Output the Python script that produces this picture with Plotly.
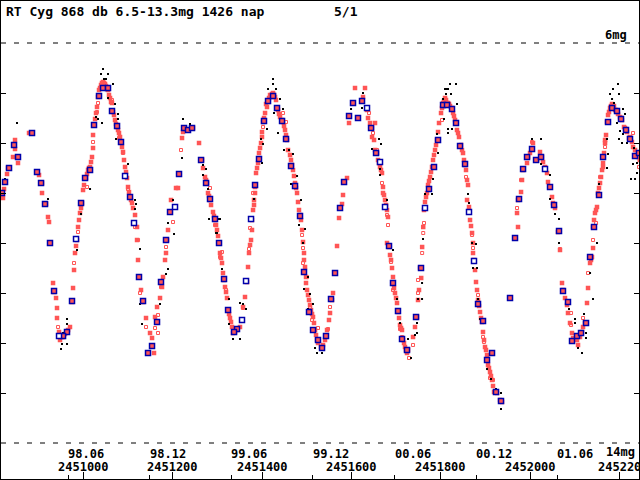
import plotly.graph_objects as go

JD0 = 2450000

# visual estimates (red filled squares): JD-2450000, magnitude
red_jd = [819.2, 821.5, 828.2, 830.4, 841.6, 846.1, 846.1, 852.8, 877.5, 895.4, 899.9, 906.6, 906.6, 915.6, 920.0,
          922.3, 924.5, 931.3, 933.5, 938.0, 940.2, 940.2, 944.7, 946.9, 951.4, 953.7, 958.1, 964.9, 969.3, 973.8,
          976.1, 980.5, 985.0, 987.3, 991.7, 996.2, 998.5, 1005.2, 1009.7, 1014.2, 1018.6, 1020.9, 1020.9, 1023.1,
          1027.6, 1029.8, 1032.1, 1036.6, 1041.0, 1045.5, 1052.2, 1056.7, 1063.4, 1065.7, 1070.2, 1074.7, 1079.1,
          1083.6, 1088.1, 1092.6, 1097.1, 1099.3, 1103.8, 1108.3, 1115.0, 1119.5, 1119.5, 1121.7, 1123.9, 1128.4,
          1132.9, 1139.6, 1148.6, 1153.1, 1157.5, 1159.8, 1164.3, 1171.0, 1175.5, 1177.7, 1182.2, 1184.4, 1186.7,
          1188.9, 1193.4, 1195.6, 1206.8, 1211.3, 1213.6, 1220.3, 1222.5, 1224.8, 1233.7, 1244.9, 1258.4, 1265.1,
          1267.3, 1271.8, 1276.3, 1278.5, 1283.0, 1289.7, 1294.2, 1298.7, 1303.2, 1305.4, 1309.9, 1312.1, 1316.6,
          1321.1, 1323.4, 1327.8, 1332.3, 1334.5, 1339.0, 1343.5, 1350.2, 1354.7, 1357.0, 1361.4, 1365.9, 1368.2,
          1370.4, 1374.9, 1377.1, 1379.4, 1381.6, 1383.9, 1386.1, 1390.6, 1392.8, 1397.3, 1399.5, 1401.8, 1406.3,
          1410.7, 1413.0, 1419.7, 1424.2, 1428.7, 1433.1, 1439.9, 1446.6, 1451.1, 1455.6, 1457.8, 1464.5, 1469.0,
          1473.5, 1478.0, 1480.2, 1482.4, 1486.9, 1489.2, 1491.4, 1493.6, 1495.9, 1498.1, 1500.4, 1504.8, 1509.3,
          1513.8, 1518.3, 1522.8, 1525.0, 1531.7, 1536.2, 1540.7, 1545.2, 1549.6, 1551.9, 1556.4, 1558.6, 1567.6,
          1572.1, 1574.3, 1578.8, 1581.0, 1583.3, 1590.0, 1607.9, 1630.3, 1594.5, 1625.8, 1634.8, 1637.0, 1641.5,
          1646.0, 1652.7, 1646.0, 1652.7, 1657.2, 1659.4, 1663.9, 1668.4, 1670.6, 1670.6, 1675.1, 1679.6, 1681.8,
          1679.6, 1684.1, 1688.6, 1690.8, 1693.0, 1693.0, 1697.5, 1702.0, 1704.2, 1708.7, 1713.2, 1715.5, 1719.9,
          1724.4, 1726.7, 1737.9, 1742.3, 1746.8, 1749.1, 1751.3, 1753.6, 1756.2, 1758.3, 1760.7, 1762.5, 1764.7,
          1769.2, 1771.5, 1776.0, 1780.4, 1782.7, 1787.2, 1791.6, 1793.9, 1796.1, 1800.6, 1805.1, 1809.6, 1816.3,
          1825.2, 1827.5, 1834.2, 1836.4, 1840.9, 1845.4, 1849.9, 1852.1, 1856.6, 1858.9, 1858.9, 1863.3, 1865.6,
          1870.1, 1872.3, 1872.3, 1874.5, 1876.8, 1879.0, 1881.3, 1883.5, 1888.0, 1892.5, 1894.7, 1899.2, 1903.7,
          1905.9, 1910.4, 1914.9, 1919.4, 1926.1, 1932.8, 1937.3, 1970.9, 1973.1, 1973.1, 1979.9, 1982.1, 1984.4,
          1993.3, 1995.6, 2000.0, 2004.5, 2006.7, 2015.7, 2022.4, 2026.9, 2029.2, 2033.6, 2038.1, 2040.3, 2044.8,
          2049.3, 2051.5, 2056.0, 2062.7, 2067.2, 2071.7, 2073.9, 2078.4, 2082.9, 2085.1, 2089.6, 2094.1, 2096.4,
          2105.3, 2107.6, 2112.0, 2116.5, 2118.8, 2123.2, 2127.7, 2130.0, 2134.5, 2138.9, 2141.2, 2141.2, 2145.6,
          2150.1, 2152.4, 2156.9, 2161.4, 2163.6, 2165.8, 2168.1, 2170.3, 2172.5, 2174.8, 2179.3, 2186.0, 2190.5,
          2194.9, 2201.7, 2206.1, 2210.6, 2217.3, 2221.8, 2228.5, 2230.8, 2237.5, 2241.9, 2246.0]
red_mag = [9.10, 8.92, 8.62, 8.50, 8.28, 8.12, 7.94, 8.40, 7.80, 8.58, 8.64, 8.80, 9.00, 9.22, 9.48,
           9.58, 10.00, 10.80, 10.98, 11.10, 11.30, 11.50, 11.78, 11.94, 11.88, 11.88, 11.82, 11.74, 11.68, 11.18,
           10.90, 10.20, 9.94, 9.68, 9.40, 9.20, 8.94, 8.70, 8.54, 8.48, 8.28, 8.10, 7.84, 7.64,
           7.40, 7.28, 7.08, 6.90, 6.80, 6.80, 6.90, 7.04, 7.20, 7.38, 7.54, 7.68, 7.80,
           7.98, 8.18, 8.48, 8.70, 8.88, 9.08, 9.20, 9.44, 9.68, 9.94, 10.34, 10.68, 10.94,
           11.18, 11.50, 11.80, 11.90, 12.20, 11.48, 11.28, 11.10, 10.88, 10.68, 10.34, 10.20, 9.94,
           9.74, 9.38, 9.14, 8.90, 8.90, 8.62, 7.90, 7.78, 7.70, 7.74, 7.70, 8.00, 8.34,
           8.50, 8.68, 8.80, 9.00, 9.14, 9.38, 9.54, 9.74, 10.00, 10.20, 10.40, 10.60, 10.88,
           11.10, 11.34, 11.50, 11.68, 11.80, 11.78, 11.74, 11.68, 11.54, 11.28, 11.08, 10.78, 10.48,
           10.20, 9.94, 9.54, 9.34, 9.14, 8.88, 8.60, 8.40, 8.20, 8.00, 7.78, 7.58, 7.40,
           7.28, 7.18, 7.08, 7.00, 7.08, 7.30, 7.48, 7.58, 7.74, 7.94, 8.14, 8.34, 8.54,
           8.80, 9.00, 9.18, 9.34, 9.54, 9.74, 9.98, 10.20, 10.48, 10.68, 10.94, 11.14, 11.34,
           11.48, 11.74, 11.94, 12.00, 12.08, 12.04, 11.94, 11.74, 11.54, 11.40, 11.14, 11.00, 10.06,
           9.50, 9.30, 9.22, 9.04, 8.78, 8.70, 6.90, 6.90, 7.60, 7.08, 7.34, 7.50, 7.60,
           7.70, 7.60, 7.88, 8.14, 8.20, 8.34, 8.48, 8.60, 8.88, 9.00, 9.14, 9.34, 9.48,
           10.00, 10.08, 10.34, 10.50, 10.68, 10.80, 11.00, 11.20, 11.38, 11.64, 11.74, 11.94, 12.08,
           12.20, 12.14, 11.88, 11.68, 11.48, 11.14, 10.94, 10.50, 10.70, 10.08, 9.68, 9.34, 9.18,
           9.00, 8.84, 8.68, 8.48, 8.34, 8.14, 7.94, 7.78, 7.60, 7.40, 7.20, 7.10, 7.20,
           7.30, 7.40, 7.60, 7.74, 7.88, 8.04, 8.20, 8.34, 8.54, 8.74, 9.14, 9.28, 9.54,
           9.80, 10.00, 10.20, 10.34, 10.54, 10.78, 10.94, 11.14, 11.38, 11.58, 11.78, 12.08, 12.24,
           12.44, 12.58, 12.74, 12.98, 13.00, 13.14, 13.18, 9.40, 9.14, 9.68, 8.98, 8.74, 8.54,
           8.40, 8.28, 8.20, 8.12, 8.00, 8.34, 8.18, 8.28, 8.38, 8.48, 8.60, 8.78, 8.88,
           9.08, 9.20, 9.30, 9.78, 10.14, 10.80, 10.94, 11.10, 11.24, 11.40, 11.60, 11.80, 11.90,
           11.94, 12.04, 11.88, 11.78, 11.68, 11.60, 11.20, 10.90, 10.40, 10.28, 10.10, 9.68, 9.40,
           9.28, 9.00, 8.80, 8.54, 8.40, 8.20, 8.00, 7.84, 7.58, 7.44, 7.30, 7.28, 7.34,
           7.38, 7.48, 7.54, 7.68, 7.78, 7.90, 7.98, 8.08, 8.24, 8.28, 8.34]

# more red filled estimates along the dense parts of the curve
red2_jd = [1034.3, 1038.8, 1043.3, 1047.8, 1050.0, 1054.5, 1059.0, 1061.2, 1067.9, 1072.4, 1076.9,
           1408.5, 1415.2, 1417.5, 1422.0, 1426.4, 1430.9, 1435.4, 1437.6, 1444.4,
           1802.8, 1807.3, 1811.8, 1814.0, 1818.5, 1820.8, 1829.7, 1832.0, 1838.7,
           1081.4, 1085.8, 1090.3, 1094.8, 1101.5, 1106.0, 1110.5,
           2177.0, 2181.5, 2183.8, 2188.2, 2192.7, 2197.2, 2203.9, 2212.8, 2224.1, 2235.3,
           1767.0, 1773.7, 1778.2, 1784.9, 1789.4,
           1847.6, 1854.4, 1861.1, 1867.8, 1885.8, 1890.2, 1897.0, 1901.4, 1908.1, 1912.6, 1917.1,
           1448.8, 1453.3, 1462.3, 1466.8, 1471.2, 1475.7, 1484.7, 1493.6, 1498.1, 1502.6, 1507.1, 1511.6,
           1516.0, 1520.5,
           1372.7, 1377.1, 1381.6, 1383.9, 1388.4, 1395.1, 1399.5, 1404.0,
           1274.1, 1280.8, 1285.3, 1292.0, 1296.5, 1301.0, 1307.7, 1314.4, 1318.9, 1325.6, 1330.1,
           978.3, 982.8, 989.5, 994.0, 1000.7, 1007.4, 1011.9, 1016.4, 1025.4,
           2136.7, 2143.4, 2147.9, 2154.6, 2159.1, 2163.6, 2168.1,
           1650.5, 1655.0, 1661.7, 1666.1, 1672.9, 1677.4, 1686.3, 1695.3, 1699.8, 1706.5, 1711.0, 1717.7, 1722.2]
red2_mag = [6.94, 6.84, 6.78, 6.82, 6.86, 6.94, 7.10, 7.18, 7.44, 7.62, 7.74,
            7.22, 7.10, 7.04, 7.02, 7.04, 7.14, 7.34, 7.42, 7.54,
            7.30, 7.16, 7.14, 7.20, 7.22, 7.26, 7.46, 7.54, 7.80,
            7.88, 8.08, 8.34, 8.58, 8.98, 9.14, 9.30,
            7.38, 7.26, 7.22, 7.26, 7.34, 7.42, 7.50, 7.70, 7.88, 8.14,
            9.08, 8.76, 8.58, 8.24, 8.04,
            8.14, 8.44, 8.84, 9.66, 11.26, 11.50, 11.94, 12.14, 12.50, 12.66, 12.86,
            7.66, 7.84, 8.24, 8.44, 8.66, 8.90, 9.44, 10.34, 10.80, 11.04, 11.24, 11.42,
            11.60, 11.84,
            10.04, 9.74, 9.24, 9.00, 8.50, 8.10, 7.88, 7.50,
            8.74, 9.06, 9.24, 9.46, 9.64, 9.86, 10.30, 10.74, 10.98, 11.42, 11.58,
            10.54, 10.06, 9.54, 9.30, 8.84, 8.62, 8.50, 8.38, 7.52,
            10.34, 9.54, 9.34, 8.90, 8.68, 8.48, 7.94,
            7.94, 8.18, 8.40, 8.54, 9.04, 9.24, 10.24, 10.90, 11.10, 11.50, 11.70, 12.00, 12.14]

# red open squares
ropen_jd = [846.1, 1032.1, 1029.8, 1020.9, 1018.6, 1007.4, 987.3, 978.3, 942.5, 1139.6, 1159.8, 1166.5, 1166.5,
            1173.2, 1184.4, 1200.1, 1218.0, 1088.1, 1099.3, 1121.7, 1126.2, 1115.0, 1063.4, 1079.1, 1283.0, 1294.2,
            1305.4, 1309.9, 1318.9, 1357.0, 1370.4, 1372.7, 1379.4, 1401.8, 1446.6, 1453.3, 1489.2, 1491.4, 1491.4,
            1500.4, 1507.1, 1511.6, 1525.0, 1547.4, 1551.9, 1581.0, 1639.3, 1648.2, 1657.2, 1668.4, 1679.6, 1681.8,
            1688.6, 1693.0, 1708.7, 1713.2, 1728.9, 1737.9, 1749.1, 1749.1, 1758.3, 1760.7, 1762.5, 1800.6, 1802.8,
            1843.2, 1856.6, 1870.1, 1872.3, 1883.5, 1894.7, 1897.0, 1910.4, 1917.1, 1970.9, 1979.9, 2004.5, 2067.2,
            2091.9, 2091.9, 2118.8, 2130.0, 2141.2, 2148.0, 2156.9, 2168.1, 2230.8, 2244.2]
ropen_mag = [7.94, 7.20, 7.38, 7.98, 8.28, 8.88, 9.78, 10.40, 11.68, 11.68, 11.70, 11.80, 11.44,
             10.88, 10.08, 9.58, 8.14, 8.20, 8.92, 9.94, 11.00, 9.68, 7.14, 7.90, 8.90, 9.64,
             10.28, 10.18, 10.94, 11.30, 10.12, 9.70, 9.00, 7.68, 7.40, 7.58, 9.84, 10.10, 10.40,
             10.68, 11.30, 11.54, 11.70, 11.72, 11.28, 9.04, 7.40, 7.80, 8.14, 8.80, 9.44, 9.64,
             10.38, 10.94, 11.72, 11.88, 12.30, 12.04, 11.00, 10.74, 10.20, 9.80, 9.60, 7.40, 7.54,
             8.08, 8.68, 9.84, 10.10, 11.04, 11.88, 11.98, 12.70, 12.74, 9.30, 8.74, 7.98, 10.12,
             11.40, 11.64, 11.50, 10.60, 9.94, 9.60, 8.68, 8.08, 7.80, 8.48]

# black dots
blk_jd = [850.6, 823.7, 819.2, 920.0, 949.2, 951.4, 962.6, 962.6, 962.6, 953.7, 985.0, 994.0, 1014.2, 1027.6,
          1032.1, 1041.0, 1043.3, 1038.8, 1054.5, 1065.7, 1045.5, 1050.0, 1054.5, 1070.2, 1072.4, 1076.9, 1076.9,
          1099.3, 1115.0, 1117.2, 1115.0, 1126.2, 1126.2, 1130.7, 1200.1, 1202.4, 1188.9, 1188.9, 1184.4, 1171.0,
          1222.5, 1238.2, 1220.3, 1267.3, 1267.3, 1274.1, 1280.8, 1305.4, 1298.7, 1424.2, 1424.2, 1413.0, 1430.9,
          1422.0, 1439.9, 1446.6, 1426.4, 1442.1, 1410.7, 1435.4, 1397.3, 1401.8, 1448.8, 1460.0, 1469.0, 1464.5,
          1478.0, 1486.9, 1482.4, 1495.9, 1491.4, 1502.6, 1507.1, 1493.6, 1513.8, 1502.6, 1518.3, 1522.8, 1534.0,
          1547.4, 1529.5, 1309.9, 1325.6, 1325.6, 1334.5, 1350.2, 1341.3, 1357.0, 1363.7, 1350.2, 1300.9, 1296.5,
          1305.4, 1278.5, 1381.6, 1399.5, 1625.8, 1623.6, 1599.0, 1661.7, 1666.1, 1646.0, 1663.9, 1679.6, 1663.9,
          1693.0, 1702.0, 1708.7, 1726.7, 1733.4, 1746.8, 1742.3, 1749.1, 1746.8, 1820.8, 1834.2, 1809.6, 1814.0,
          1816.3, 1811.8, 1823.0, 1805.1, 1836.4, 1807.3, 1816.3, 1825.2, 1816.3, 1791.6, 1793.9, 1782.7, 1764.7,
          1780.4, 1760.3, 1758.1, 1758.1, 1861.1, 1863.3, 1870.1, 1879.0, 1872.3, 1881.3, 1883.5, 1888.0, 1903.7,
          1912.6, 1923.8, 1935.0, 1935.0, 2004.5, 2024.7, 2024.7, 2044.8, 2044.8, 2056.0, 2065.0, 2065.0, 2087.4,
          2100.8, 2100.8, 2125.5, 2125.5, 2116.5, 2107.6, 2121.0, 2141.2, 2150.1, 2134.5, 2154.6, 2172.5, 2174.8,
          2172.5, 2186.0, 2197.2, 2179.3, 2199.4, 2183.8, 2188.2, 2194.9, 2208.4, 2212.8, 2206.1, 2194.9, 2201.7,
          2208.4, 2206.1, 2199.4, 2217.3, 2233.0, 2239.7, 2230.8, 2226.3, 2235.3, 2239.7]
blk_mag = [7.60, 8.72, 9.00, 9.12, 12.12, 12.02, 12.02, 11.52, 11.62, 11.80, 10.14, 9.42, 8.92, 7.48,
           7.52, 7.60, 6.52, 6.62, 6.62, 6.82, 6.72, 6.72, 7.10, 7.22, 7.92, 7.42, 7.52,
           8.42, 9.14, 9.22, 9.32, 10.12, 11.22, 11.62, 9.14, 9.82, 9.60, 10.52, 10.62, 11.22,
           7.52, 7.62, 8.30, 8.44, 8.64, 8.52, 9.52, 9.52, 9.80, 6.72, 6.82, 6.92, 6.92,
           7.02, 7.12, 7.32, 7.40, 7.52, 7.72, 7.80, 7.92, 8.02, 8.14, 8.14, 8.22, 8.82,
           8.66, 9.14, 9.64, 9.72, 10.00, 10.68, 11.02, 10.92, 11.22, 11.32, 12.10, 12.20, 12.20,
           11.90, 12.06, 10.52, 11.12, 11.62, 11.92, 11.92, 11.70, 11.22, 11.32, 11.20, 9.52, 9.80,
           10.00, 8.92, 9.12, 8.40, 7.00, 7.30, 7.32, 7.92, 8.02, 8.12, 8.64, 9.14, 8.52,
           10.14, 11.12, 11.60, 11.92, 12.30, 11.60, 11.84, 11.12, 11.80, 6.82, 6.82, 6.92, 6.92,
           6.92, 7.02, 7.02, 7.12, 7.22, 7.52, 7.72, 7.72, 7.80, 7.82, 8.20, 8.72, 9.02,
           9.02, 9.92, 10.80, 11.12, 9.02, 9.20, 10.00, 10.02, 10.50, 10.50, 11.12, 11.52, 12.52,
           12.72, 12.92, 13.00, 13.32, 7.92, 7.92, 8.42, 8.64, 9.12, 9.42, 9.52, 10.00, 11.32,
           11.52, 11.60, 11.80, 11.90, 12.20, 12.10, 11.42, 11.12, 10.00, 10.60, 8.82, 8.50, 8.22,
           7.92, 6.92, 6.82, 7.02, 7.02, 7.12, 7.20, 7.32, 7.32, 7.42, 7.52, 7.60, 7.76,
           7.82, 8.00, 7.92, 8.00, 8.10, 8.40, 8.42, 8.72, 8.72, 8.60]

# blue bordered squares
blue_jd = [817.0, 823.7, 832.7, 843.9, 852.8, 884.2, 895.4, 904.4, 913.3, 924.5, 933.5, 962.6, 953.7, 973.8,
           994.0, 1003.0, 1014.2, 1023.1, 1034.3, 1043.3, 1054.5, 1063.4, 1074.7, 1083.6, 1103.8, 1123.9, 1132.9,
           1144.1, 1153.1, 1164.3, 1173.2, 1184.4, 1193.4, 1213.6, 1224.8, 1233.7, 1242.7, 1262.9, 1274.1, 1283.0,
           1294.2, 1303.2, 1314.4, 1323.4, 1343.5, 1336.8, 1383.9, 1392.8, 1404.0, 1413.0, 1424.2, 1433.1, 1444.4,
           1453.3, 1464.5, 1473.5, 1484.7, 1493.6, 1504.8, 1513.8, 1525.0, 1534.0, 1542.9, 1554.1, 1563.1, 1574.3,
           1583.3, 1594.5, 1603.4, 1614.6, 1623.6, 1643.8, 1655.0, 1684.1, 1693.0, 1704.2, 1713.2, 1724.4, 1744.6,
           1755.8, 1773.7, 1784.9, 1793.9, 1805.1, 1814.0, 1825.2, 1834.2, 1843.2, 1854.4, 1883.5, 1894.7, 1903.7,
           1914.9, 1923.8, 1935.0, 1955.2, 1966.4, 1975.4, 1984.4, 1993.3, 2004.5, 2013.5, 2024.7, 2044.8, 2053.8,
           2065.0, 2073.9, 2085.1, 2094.1, 2105.3, 2114.3, 2125.5, 2134.5, 2143.4, 2154.6, 2163.6, 2174.8, 2183.8,
           2194.9, 2203.9, 2215.1, 2224.1, 2235.3, 2244.2]
blue_mag = [9.00, 8.78, 8.50, 8.04, 8.28, 7.80, 8.58, 8.80, 9.22, 10.00, 10.96, 11.78, 11.86, 11.16,
            9.20, 8.70, 8.54, 7.64, 7.06, 6.90, 6.90, 7.36, 7.66, 7.98, 9.08, 10.68, 11.16,
            12.20, 12.06, 11.58, 10.78, 9.94, 9.38, 8.62, 7.70, 7.74, 7.70, 8.34, 8.80, 9.12,
            9.52, 10.00, 10.72, 11.34, 11.72, 11.78, 8.84, 8.32, 7.56, 7.16, 7.06, 7.30, 7.56,
            7.92, 8.46, 8.86, 9.46, 10.58, 11.38, 11.74, 11.94, 12.10, 11.86, 11.12, 10.60, 9.30,
            8.78, 7.46, 7.20, 7.50, 7.16, 7.70, 8.20, 10.06, 10.80, 11.36, 11.92, 12.14, 11.48,
            10.50, 8.92, 8.48, 7.94, 7.24, 7.24, 7.32, 7.60, 8.06, 8.42, 11.22, 11.56, 12.34,
            12.20, 12.98, 13.16, 11.10, 9.90, 9.12, 8.52, 8.28, 8.12, 8.34, 8.28, 8.88, 9.24,
            9.76, 10.96, 11.18, 11.96, 11.86, 11.80, 11.60, 10.28, 9.68, 9.04, 8.28, 7.58, 7.30,
            7.36, 7.52, 7.74, 7.92, 8.26, 8.20]

# blue open squares
bopen_jd = [944.7, 982.8, 1092.6, 1112.7, 1204.6, 1354.7, 1363.7, 1374.9, 1634.8, 1663.9, 1675.1, 1764.7,
            1863.3, 1874.5, 2033.6]
bopen_mag = [11.86, 9.92, 8.66, 9.60, 9.28, 11.54, 10.76, 9.52, 7.30, 8.38, 9.28, 9.30,
             9.38, 10.36, 8.52]

# axis ticks
jd_ticks = [2451000, 2451200, 2451400, 2451600, 2451800, 2452000, 2452200]
jd_labels = ['2451000', '2451200', '2451400', '2451600', '2451800', '2452000', '245220']
date_ticks = [2450965.5, 2451148.5, 2451330.5, 2451513.5, 2451696.5, 2451879.5, 2452061.5]
date_labels = ['98.06', '98.12', '99.06', '99.12', '00.06', '00.12', '01.06']
mag_ticks = [7, 8, 9, 10, 11, 12, 13]
mag_limits = [6, 14]
mag_limit_labels = ['6mg', '14mg']

RED = '#ff5555'
BLUE = '#0000aa'
FONT = 'DejaVu Sans Mono'

fig = go.Figure()

fig.add_trace(go.Scatter(x=[JD0 + d for d in red_jd + red2_jd], y=red_mag + red2_mag, mode='markers',
                         marker=dict(symbol='square', size=4.5, color=RED, line=dict(width=0))))
fig.add_trace(go.Scatter(x=[JD0 + d for d in ropen_jd], y=ropen_mag, mode='markers',
                         marker=dict(symbol='square-open', size=3, color=RED, line=dict(width=1))))
fig.add_trace(go.Scatter(x=[JD0 + d for d in blk_jd], y=blk_mag, mode='markers',
                         marker=dict(symbol='square', size=2, color='black', line=dict(width=0))))
fig.add_trace(go.Scatter(x=[JD0 + d for d in blue_jd], y=blue_mag, mode='markers',
                         marker=dict(symbol='square', size=5, color=RED, line=dict(width=1.5, color=BLUE))))
fig.add_trace(go.Scatter(x=[JD0 + d for d in bopen_jd], y=bopen_mag, mode='markers',
                         marker=dict(symbol='square', size=5, color='white', line=dict(width=1.5, color=BLUE))))

# dashed limit lines
for m in mag_limits:
    fig.add_hline(y=m, line=dict(color='black', width=1, dash='5px,8px'))

fig.add_annotation(x=0.982, y=mag_limits[0], xref='paper', yref='y', text='<b>' + mag_limit_labels[0] + '</b>',
                   showarrow=False, xanchor='right', yanchor='bottom', yshift=0, borderpad=0,
                   font=dict(family=FONT, size=12, color='black'))
fig.add_annotation(x=0.995, y=mag_limits[1], xref='paper', yref='y', text='<b>' + mag_limit_labels[1] + '</b>',
                   showarrow=False, xanchor='right', yanchor='top', yshift=-1, borderpad=0,
                   font=dict(family=FONT, size=12, color='black'))

for v, t in zip(jd_ticks, jd_labels):
    fig.add_annotation(x=v, y=0.026, xref='x', yref='paper', text='<b>' + t + '</b>', showarrow=False,
                       xanchor='center', yanchor='middle', borderpad=0,
                       font=dict(family=FONT, size=12, color='black'))
for v, t in zip(date_ticks, date_labels):
    fig.add_annotation(x=v, y=0.052, xref='x', yref='paper', text='<b>' + t + '</b>', showarrow=False,
                       xanchor='left', yanchor='middle', xshift=-1, borderpad=0,
                       font=dict(family=FONT, size=12, color='black'))

# title line
fig.add_annotation(x=0.006, y=0.996, xref='paper', yref='paper',
                   text='<b>RT Cyg 868 db 6.5-13.3mg 1426 nap</b>', showarrow=False,
                   xanchor='left', yanchor='top', borderpad=0, font=dict(family=FONT, size=13, color='black'))
fig.add_annotation(x=0.52, y=0.996, xref='paper', yref='paper', text='<b>5/1</b>', showarrow=False,
                   xanchor='left', yanchor='top', borderpad=0, font=dict(family=FONT, size=13, color='black'))

fig.update_layout(
    width=640, height=480,
    margin=dict(l=1, r=1, t=1, b=1),
    paper_bgcolor='white', plot_bgcolor='white',
    showlegend=False,
    xaxis=dict(range=[2450814.7, 2452244.2], showgrid=False, zeroline=False,
               showline=True, mirror=True, linecolor='black', linewidth=1,
               tickmode='array', tickvals=jd_ticks, ticks='inside', ticklen=7, tickcolor='black',
               showticklabels=False,
               minor=dict(tickmode='array', tickvals=date_ticks, ticks='inside', ticklen=4,
                          tickcolor='black', showgrid=False)),
    yaxis=dict(range=[14.72, 5.16], showgrid=False, zeroline=False,
               showline=True, mirror='ticks', linecolor='black', linewidth=1,
               tickmode='array', tickvals=mag_ticks, ticks='inside', ticklen=5, tickcolor='black',
               showticklabels=False),
)

# remove the default page margin so the 640x480 figure fills the window
fig.write_html("out.html", config={'displayModeBar': False},
               post_script="document.body.style.margin='0';document.body.style.padding='0';")
